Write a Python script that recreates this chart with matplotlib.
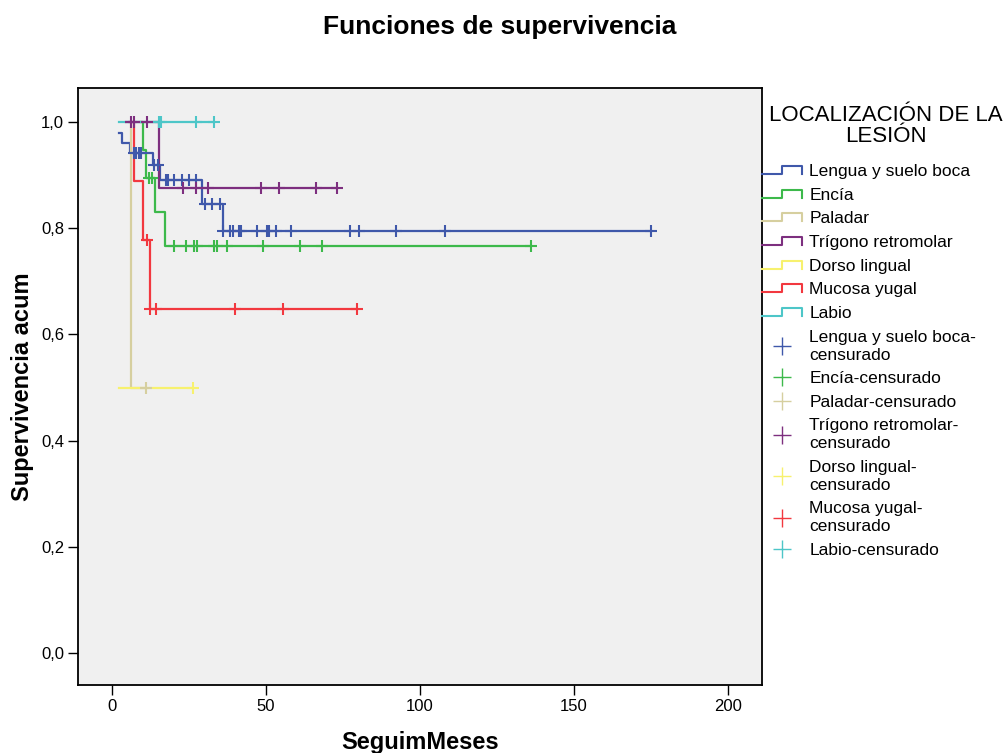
import numpy as np
import matplotlib
matplotlib.use("Agg")
import matplotlib.pyplot as plt
from matplotlib.lines import Line2D
from matplotlib.legend_handler import HandlerBase
from matplotlib.ticker import FuncFormatter

plt.rcParams['font.family'] = ['Liberation Sans', 'DejaVu Sans']

# ---------------- data ----------------
groups = ["Lengua y suelo boca", "Encía", "Paladar", "Trígono retromolar",
          "Dorso lingual", "Mucosa yugal", "Labio"]
censor_labels = ["Lengua y suelo boca-\ncensurado", "Encía-censurado", "Paladar-censurado",
                 "Trígono retromolar-\ncensurado", "Dorso lingual-\ncensurado",
                 "Mucosa yugal-\ncensurado", "Labio-censurado"]
colors = ["#3F58AA", "#3DB94B", "#D6CF9F", "#7D2F7F", "#F7F16E", "#F2383F", "#4DC6C8"]

# step times (months) and cumulative survival after each step
lengua_t = [2.4, 3.2, 6.0, 13.2, 15.5, 29.1, 36.2]
lengua_s = [0.980, 0.961, 0.942, 0.919, 0.891, 0.846, 0.794]
lengua_c = [7.2, 7.9, 8.7, 9.6, 13.6, 15.0, 17.4, 18.3, 20.1, 22.6, 25.1, 27.3,
            30.2, 32.4, 35.1, 36.2, 38.3, 39.2, 41.2, 42.0, 47.2, 50.2, 51.0,
            53.2, 58.1, 77.2, 80.2, 92.1, 108.1, 174.9]

encia_t = [9.5, 10.2, 11.0, 14.0, 17.2]
encia_s = [1.000, 0.947, 0.895, 0.831, 0.767]
encia_c = [12.1, 13.1, 20.1, 24.1, 26.7, 27.5, 33.3, 34.0, 37.2, 49.1, 61.0, 68.1, 136.0]

paladar_t = [5.8, 6.2]
paladar_s = [1.000, 0.500]
paladar_c = [11.2]

trigono_t = [4.6, 15.3]
trigono_s = [1.000, 0.875]
trigono_c = [6.3, 7.1, 11.4, 23.2, 27.2, 31.3, 48.3, 54.2, 66.2, 73.1]

dorso_t = [2.4]
dorso_s = [0.500]
dorso_c = [26.2]

mucosa_t = [6.3, 7.1, 10.2, 12.3]
mucosa_s = [1.000, 0.889, 0.778, 0.648]
mucosa_c = [11.3, 12.3, 14.2, 40.1, 55.5, 79.5]

labio_t = [2.4]
labio_s = [1.000]
labio_c = [15.4, 16.1, 27.3, 33.1]

steps_t = [lengua_t, encia_t, paladar_t, trigono_t, dorso_t, mucosa_t, labio_t]
steps_s = [lengua_s, encia_s, paladar_s, trigono_s, dorso_s, mucosa_s, labio_s]
censors = [lengua_c, encia_c, paladar_c, trigono_c, dorso_c, mucosa_c, labio_c]

x_ticks = [0, 50, 100, 150, 200]
y_ticks = [0.0, 0.2, 0.4, 0.6, 0.8, 1.0]

# ---------------- figure ----------------
W, H = 1008, 753
fig = plt.figure(figsize=(W / 100, H / 100), dpi=100)
ax = fig.add_axes([78 / W, 1 - 685 / H, (762 - 78) / W, (685 - 88) / H])
ax.set_facecolor("#F0F0F0")

for t, s, c, col in zip(steps_t, steps_s, censors, colors):
    t = np.asarray(t, float)
    s = np.asarray(s, float)
    c = np.asarray(c, float)
    end = max(t[-1], c.max()) if len(c) else t[-1]
    xs = np.append(t, end)
    ys = np.append(s, s[-1])
    ax.step(xs, ys, where='post', color=col, lw=1.6, zorder=2)
    idx = np.searchsorted(t, c, side='right') - 1
    ax.plot(c, s[idx], ls='none', marker='+', ms=8, mew=1.5, color=col, zorder=3)

ax.set_xlim(-11.0, 211.0)
ax.set_ylim(-0.060, 1.064)
ax.set_xticks(x_ticks)
ax.set_yticks(y_ticks)
ax.yaxis.set_major_formatter(FuncFormatter(lambda v, p: f"{v:.1f}".replace('.', ',')))
ax.tick_params(direction='out', length=7, width=1.0, color='black', labelsize=12, pad=3)
for sp in ax.spines.values():
    sp.set_color('black')
    sp.set_linewidth(1.3)

ax.set_xlabel("SeguimMeses", fontsize=17, fontweight='bold', labelpad=12)
ax.set_ylabel("Supervivencia acum", fontsize=17, fontweight='bold', labelpad=5)
fig.text(499.5 / W, 1 - 27 / H, "Funciones de supervivencia", ha='center', va='center',
         fontsize=19, fontweight='bold')


# ---------------- legend ----------------
class StepHandler(HandlerBase):
    def create_artists(self, legend, orig_handle, xdescent, ydescent, width, height,
                       fontsize, trans):
        x0, y0 = -xdescent, -ydescent
        lo = y0 + height * 0.17
        hi = y0 + height * 0.83
        xs = [x0, x0 + width * 0.5, x0 + width * 0.5, x0 + width, x0 + width]
        ys = [lo, lo, hi, hi, lo]
        ln = Line2D(xs, ys, color=orig_handle.get_color(), lw=1.5)
        ln.set_transform(trans)
        return [ln]


line_handles = [Line2D([], [], color=c) for c in colors]
cens_handles = [Line2D([], [], ls='none', marker='+', ms=12.5, mew=1.0, color=c) for c in colors]
hmap = {h: StepHandler() for h in line_handles}

leg = fig.legend(line_handles + cens_handles, groups + censor_labels,
                 loc='upper left', bbox_to_anchor=(762 / W, 1 - 164 / H),
                 frameon=False, borderpad=0, borderaxespad=0, handlelength=2.3,
                 handletextpad=0.42, labelspacing=0.49, fontsize=12.5,
                 handler_map=hmap)
for txt in leg.get_texts():
    txt.set_linespacing(1.25)

fig.text(886 / W, 1 - 126 / H, "LOCALIZACIÓN DE LA\nLESIÓN", ha='center', va='center',
         fontsize=16, linespacing=1.05)

fig.savefig("out.png", dpi=100)
